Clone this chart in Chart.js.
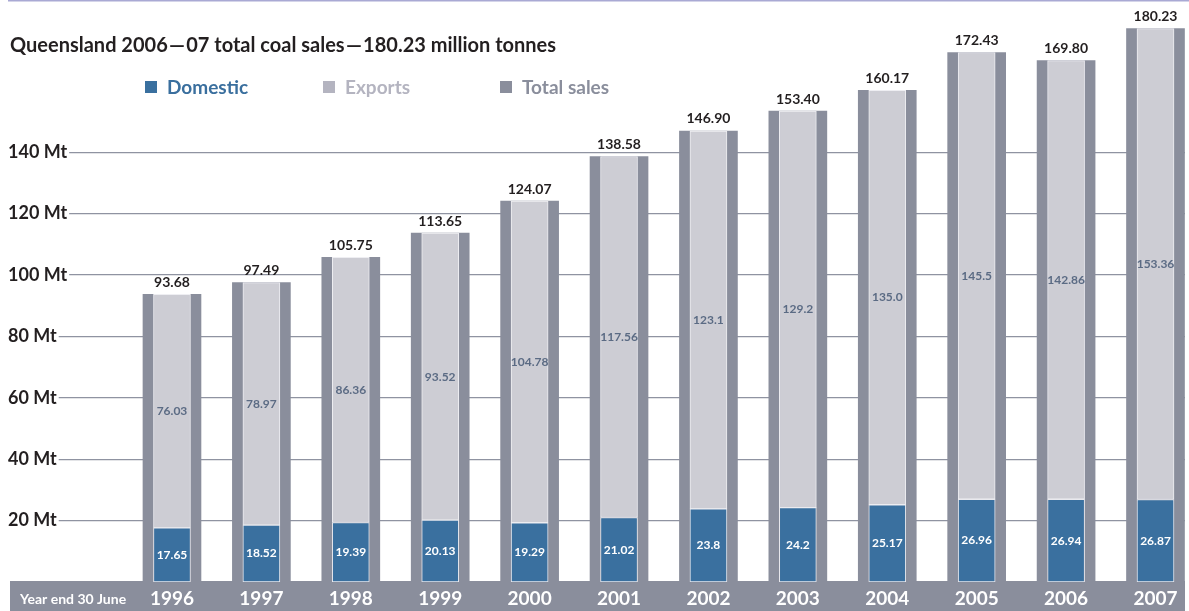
<!DOCTYPE html>
<html>
<head>
<meta charset="utf-8">
<script src="https://cdn.jsdelivr.net/npm/chart.js@4"></script>
<style>
  html, body { margin: 0; padding: 0; background: #fff; }
  canvas { display: block; }
</style>
</head>
<body>
<canvas id="coalChart" width="1189" height="611"></canvas>
<script>
// --- DATA ---
const YEARS = ['1996', '1997', '1998', '1999', '2000', '2001', '2002', '2003', '2004', '2005', '2006', '2007'];
const DOMESTIC = [17.65, 18.52, 19.39, 20.13, 19.29, 21.02, 23.8, 24.2, 25.17, 26.96, 26.94, 26.87];
const EXPORTS = [76.03, 78.97, 86.36, 93.52, 104.78, 117.56, 123.1, 129.2, 135.0, 145.5, 142.86, 153.36];
const TOTAL = [93.68, 97.49, 105.75, 113.65, 124.07, 138.58, 146.90, 153.40, 160.17, 172.43, 169.80, 180.23];
const Y_TICKS = [20, 40, 60, 80, 100, 120, 140];

// labels shown on the bars (keep the source's formatting)
const DOMESTIC_TXT = ['17.65', '18.52', '19.39', '20.13', '19.29', '21.02', '23.8', '24.2', '25.17', '26.96', '26.94', '26.87'];
const EXPORTS_TXT = ['76.03', '78.97', '86.36', '93.52', '104.78', '117.56', '123.1', '129.2', '135.0', '145.5', '142.86', '153.36'];
const TOTAL_TXT = ['93.68', '97.49', '105.75', '113.65', '124.07', '138.58', '146.90', '153.40', '160.17', '172.43', '169.80', '180.23'];

const FONT = 'Lato, "Open Sans", sans-serif';
const BLUE = '#3a709f';
const LIGHT = '#cdcdd4';
const DARK = '#8a8e9c';

const toPoints = arr => arr.map((v, i) => ({ x: i, y: v }));

// --- DECOR: title, legend, bottom band ---
const decor = {
  id: 'decor',
  beforeDraw(chart) {
    const c = chart.ctx;
    const area = chart.chartArea;
    c.save();
    // top rule
    c.fillStyle = '#a9a9d4';
    c.fillRect(8, 0, chart.width - 8, 1.5);
    // bottom band
    c.fillStyle = DARK;
    c.fillRect(10, area.bottom - 1, 1175, chart.height - area.bottom + 1);
    c.fillStyle = '#fff';
    c.font = 'bold 14px ' + FONT;
    c.textBaseline = 'middle';
    c.fillText('Year end 30 June', 20, 599);
    // title
    c.fillStyle = '#231f20';
    c.font = 'bold 20px ' + FONT;
    c.textBaseline = 'alphabetic';
    c.fillText('Queensland 2006\u200a\u2014\u200a07 total coal sales\u200a\u2014\u200a180.23 million tonnes', 10, 52);
    // legend
    const items = [
      { x: 145, text: 'Domestic', box: BLUE, color: '#3a6f9e' },
      { x: 323, text: 'Exports', box: '#b4b4c0', color: '#b4b4c0' },
      { x: 500, text: 'Total sales', box: DARK, color: DARK }
    ];
    c.font = 'bold 19px ' + FONT;
    items.forEach(it => {
      c.fillStyle = it.box;
      c.fillRect(it.x, 81, 12, 12);
      c.fillStyle = it.color;
      c.fillText(it.text, it.x + 22, 94);
    });
    c.restore();
  }
};

// --- VALUE LABELS ---
const valueLabels = {
  id: 'valueLabels',
  afterDatasetsDraw(chart) {
    const c = chart.ctx;
    c.save();
    c.textAlign = 'center';
    c.textBaseline = 'middle';
    const specs = [
      { txt: DOMESTIC_TXT, font: 'bold 12px ' + FONT, color: '#fff', mid: true },
      { txt: EXPORTS_TXT, font: 'bold 12px ' + FONT, color: '#5b6b84', mid: true },
      { txt: TOTAL_TXT, font: 'bold 14px ' + FONT, color: '#231f20', mid: false }
    ];
    specs.forEach((s, di) => {
      const meta = chart.getDatasetMeta(di);
      c.font = s.font;
      c.fillStyle = s.color;
      meta.data.forEach((el, i) => {
        const y = s.mid ? (el.y + el.base) / 2 : el.y - 12;
        c.fillText(s.txt[i], el.x, y);
      });
    });
    c.restore();
  }
};

// --- CHART ---
const ctx = document.getElementById('coalChart').getContext('2d');
const coalChart = new Chart(ctx, {
  type: 'bar',
  data: {
    datasets: [
      {
        label: 'Domestic',
        data: toPoints(DOMESTIC),
        backgroundColor: BLUE,
        borderColor: '#e9e9ee',
        borderWidth: 1,
        borderSkipped: false,
        stack: 'parts',
        grouped: false,
        barPercentage: 1,
        categoryPercentage: 1,
        maxBarThickness: 37
      },
      {
        label: 'Exports',
        data: toPoints(EXPORTS),
        backgroundColor: LIGHT,
        borderColor: '#eeeef2',
        borderWidth: 1,
        borderSkipped: false,
        stack: 'parts',
        grouped: false,
        barPercentage: 1,
        categoryPercentage: 1,
        maxBarThickness: 37
      },
      {
        label: 'Total sales',
        data: toPoints(TOTAL),
        backgroundColor: DARK,
        borderWidth: 0,
        stack: 'total',
        grouped: false,
        barPercentage: 1,
        categoryPercentage: 1,
        maxBarThickness: 58
      }
    ]
  },
  options: {
    responsive: false,
    animation: false,
    devicePixelRatio: 1,
    layout: { padding: { left: 8, right: 4, top: 14, bottom: 0 } },
    plugins: {
      legend: { display: false },
      title: { display: false },
      tooltip: { enabled: false }
    },
    scales: {
      x: {
        type: 'linear',
        offset: false,
        min: -1.834,
        max: 11.33,
        grid: { display: false, drawTicks: false, offset: false },
        border: { display: false },
        afterBuildTicks: scale => { scale.ticks = YEARS.map((_, i) => ({ value: i })); },
        afterFit: scale => { scale.height = 29; },
        ticks: {
          color: '#fff',
          font: { family: FONT, size: 19, weight: 'bold' },
          padding: 5,
          maxRotation: 0,
          autoSkip: false,
          callback: v => YEARS[v]
        }
      },
      y: {
        stacked: true,
        min: 0,
        max: 185,
        grid: { color: '#8f93a1', lineWidth: 1.3, drawTicks: false },
        border: { display: false },
        afterBuildTicks: scale => { scale.ticks = Y_TICKS.map(v => ({ value: v })); },
        ticks: {
          mirror: true,
          padding: 0,
          color: '#231f20',
          font: { family: FONT, size: 18, weight: 'bold' },
          showLabelBackdrop: true,
          backdropColor: '#fff',
          backdropPadding: { top: 0, bottom: 0, left: 2, right: 2 },
          callback: v => v + ' Mt'
        }
      }
    }
  },
  plugins: [decor, valueLabels]
});
</script>
</body>
</html>
